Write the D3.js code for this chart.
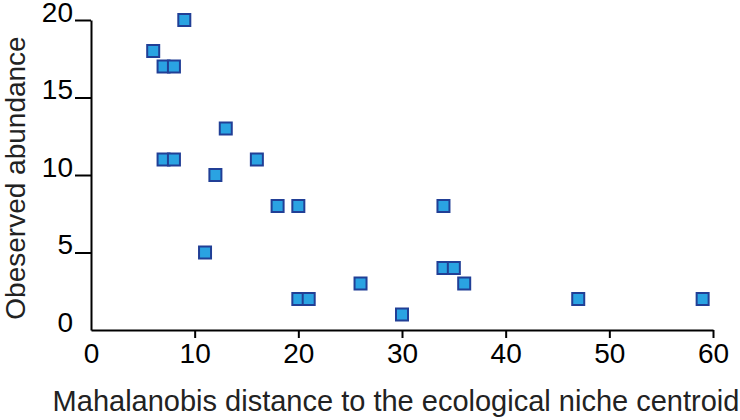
<!DOCTYPE html>
<html><head><meta charset="utf-8">
<script src="https://cdn.jsdelivr.net/npm/d3@7"></script>
<style>body{margin:0;background:#fff}svg{display:block}</style>
</head><body>
<svg id="c" width="740" height="420"></svg>
<script>
const distance = [6,7,8,9,7,8,13,16,12,11,18,20,20,21,26,30,34,34,35,36,47,59];
const abundance = [18,17,17,20,11,11,13,11,10,5,8,8,2,2,3,1,8,4,4,3,2,2];
const xTicks = [0,10,20,30,40,50,60];
const yTicks = [0,5,10,15,20];
const xTitle = "Mahalanobis distance to the ecological niche centroid";
const yTitle = "Obeserved abundance";

const svg = d3.select("#c");
const x = d3.scaleLinear().domain([0,60]).range([91,713]);
const y = d3.scaleLinear().domain([0,20]).range([330,20]);
const font = "Liberation Sans, Arial, sans-serif";

// x axis
const xa = svg.append("g").attr("transform","translate(0,330)")
  .call(d3.axisBottom(x).tickValues(xTicks).tickSize(8).tickPadding(6).tickSizeOuter(0));
xa.select(".domain").attr("stroke","#000").attr("stroke-width",2);
xa.selectAll(".tick line").attr("stroke","#000").attr("stroke-width",2)
  .filter(d=>d===0).remove();
xa.selectAll(".tick text").attr("font-family",font).attr("font-size",28).attr("fill","#000")
  .attr("dy",null).attr("y",33);

// y axis
const ya = svg.append("g").attr("transform","translate(91,0)")
  .call(d3.axisLeft(y).tickValues(yTicks).tickSize(16).tickPadding(0).tickSizeOuter(0));
ya.select(".domain").attr("stroke","#000").attr("stroke-width",2);
ya.selectAll(".tick line").attr("stroke","#000").attr("stroke-width",2)
  .filter(d=>d===0).remove();
ya.selectAll(".tick text").attr("font-family",font).attr("font-size",28).attr("fill","#000")
  .attr("dy",null).attr("x",-18).attr("y",1);

// points
const s = 12;
svg.append("g").selectAll("rect").data(distance.map((d,i)=>({x:d,y:abundance[i]})))
  .join("rect")
  .attr("x",d=>x(d.x)-s/2).attr("y",d=>y(d.y)-s/2)
  .attr("width",s).attr("height",s)
  .attr("fill","#2aa3e2").attr("stroke","#213f96").attr("stroke-width",2);

// titles
svg.append("text").attr("x",396).attr("y",411).attr("text-anchor","middle")
  .attr("font-family",font).attr("font-size",29).attr("fill","#222").text(xTitle);
svg.append("text").attr("transform","translate(25,178) rotate(-90)").attr("text-anchor","middle")
  .attr("font-family",font).attr("font-size",28).attr("fill","#222").text(yTitle);
</script>
</body></html>
